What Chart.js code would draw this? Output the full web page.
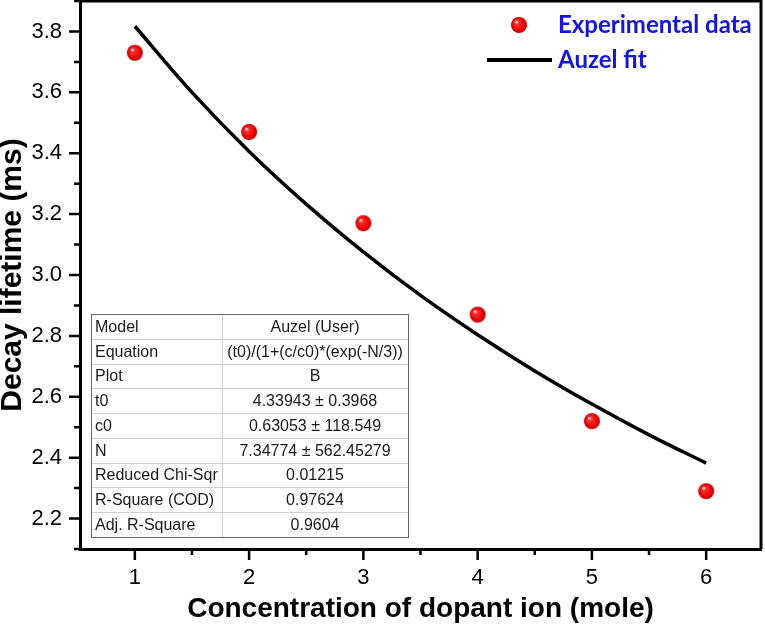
<!DOCTYPE html>
<html>
<head>
<meta charset="utf-8">
<script src="https://cdn.jsdelivr.net/npm/chart.js@4.4.1/dist/chart.umd.min.js"></script>
<style>body{margin:0;background:#fff}</style>
</head>
<body>
<canvas id="chart" width="765" height="625"></canvas>
<script>
// values
const concentration = [1, 2, 3, 4, 5, 6];
const lifetime = [3.73, 3.47, 3.17, 2.87, 2.52, 2.29];
const fitX = [1, 1.5, 2, 2.5, 3, 3.5, 4, 4.5, 5, 5.5, 6];
const fitY = [3.817, 3.600, 3.406, 3.233, 3.076, 2.933, 2.804, 2.685, 2.576, 2.475, 2.382];
const xTicks = [1, 2, 3, 4, 5, 6];
const yTicks = [2.2, 2.4, 2.6, 2.8, 3.0, 3.2, 3.4, 3.6, 3.8];
const legendLabels = ['Experimental data', 'Auzel fit'];
const tableRows = [
    ['Model', 'Auzel (User)'],
    ['Equation', '(t0)/(1+(c/c0)*(exp(-N/3))'],
    ['Plot', 'B'],
    ['t0', '4.33943 \u00b1 0.3968'],
    ['c0', '0.63053 \u00b1 118.549'],
    ['N', '7.34774 \u00b1 562.45279'],
    ['Reduced Chi-Sqr', '0.01215'],
    ['R-Square (COD)', '0.97624'],
    ['Adj. R-Square', '0.9604']
];

const FONT = '"Liberation Sans", Arial, sans-serif';

// shaded red ball used as marker
function makeSphere(r) {
    const c = document.createElement('canvas');
    c.width = c.height = r * 2 + 2;
    const g = c.getContext('2d');
    const cx = r + 1, cy = r + 1;
    const grad = g.createRadialGradient(cx - r * 0.35, cy - r * 0.4, r * 0.05, cx, cy, r);
    grad.addColorStop(0, '#fff0f0');
    grad.addColorStop(0.22, '#ff3030');
    grad.addColorStop(0.75, '#ee0000');
    grad.addColorStop(1, '#b40000');
    g.fillStyle = grad;
    g.beginPath();
    g.arc(cx, cy, r, 0, Math.PI * 2);
    g.fill();
    return c;
}
const sphere = makeSphere(8);

function minorsOf(ticks, min, max) {
    const out = [];
    const step = ticks[1] - ticks[0];
    for (let i = -1; i < ticks.length; i++) {
        const v = (i < 0 ? ticks[0] - step : ticks[i]) + step / 2;
        if (v > min && v < max) out.push(v);
    }
    return out;
}

const frameAndTicks = {
    id: 'frameAndTicks',
    afterDraw(chart) {
        const { ctx, chartArea: a, scales: { x, y } } = chart;
        ctx.save();
        ctx.strokeStyle = '#000';
        ctx.lineWidth = 3;
        ctx.beginPath();
        ctx.moveTo(a.left, a.top);
        ctx.lineTo(a.right, a.top);
        ctx.lineTo(a.right, a.bottom);
        ctx.stroke();

        ctx.lineWidth = 2.5;
        ctx.beginPath();
        xTicks.forEach(v => {
            const p = x.getPixelForValue(v);
            ctx.moveTo(p, a.bottom); ctx.lineTo(p, a.bottom + 11);
        });
        minorsOf(xTicks, x.min, x.max).forEach(v => {
            const p = x.getPixelForValue(v);
            ctx.moveTo(p, a.bottom); ctx.lineTo(p, a.bottom + 6);
        });
        yTicks.forEach(v => {
            const p = y.getPixelForValue(v);
            ctx.moveTo(a.left, p); ctx.lineTo(a.left - 11, p);
        });
        minorsOf(yTicks, y.min, y.max).forEach(v => {
            const p = y.getPixelForValue(v);
            ctx.moveTo(a.left, p); ctx.lineTo(a.left - 6, p);
        });
        ctx.stroke();
        ctx.restore();
    }
};

const legendAndTable = {
    id: 'legendAndTable',
    afterDraw(chart) {
        const ctx = chart.ctx;
        ctx.save();

        // legend
        ctx.drawImage(sphere, 519 - sphere.width / 2, 25 - sphere.height / 2);
        ctx.strokeStyle = '#000';
        ctx.lineWidth = 4;
        ctx.beginPath();
        ctx.moveTo(487, 60);
        ctx.lineTo(552, 60);
        ctx.stroke();
        ctx.fillStyle = '#1212ee';
        ctx.font = 'bold 24px Lato, "Open Sans", sans-serif';
        ctx.textBaseline = 'alphabetic';
        ctx.textAlign = 'left';
        ctx.fillText(legendLabels[0], 558, 33);
        ctx.fillText(legendLabels[1], 558, 68);

        // parameter table
        const left = 91, right = 408, top = 314, bottom = 537, split = 222;
        const rh = (bottom - top) / tableRows.length;
        ctx.fillStyle = '#fff';
        ctx.fillRect(left, top, right - left, bottom - top);
        ctx.strokeStyle = '#cfcfcf';
        ctx.lineWidth = 1;
        ctx.beginPath();
        for (let i = 1; i < tableRows.length; i++) {
            const yy = Math.round(top + i * rh) + 0.5;
            ctx.moveTo(left, yy); ctx.lineTo(right, yy);
        }
        ctx.moveTo(split + 0.5, top); ctx.lineTo(split + 0.5, bottom);
        ctx.stroke();
        ctx.strokeStyle = '#666';
        ctx.strokeRect(left + 0.5, top + 0.5, right - left, bottom - top);

        ctx.fillStyle = '#1a1a1a';
        ctx.font = '16px ' + FONT;
        ctx.textBaseline = 'middle';
        tableRows.forEach((row, i) => {
            const yy = top + (i + 0.5) * rh + 1;
            ctx.textAlign = 'left';
            ctx.fillText(row[0], left + 4, yy);
            ctx.textAlign = 'center';
            ctx.fillText(row[1], (split + right) / 2, yy);
        });
        ctx.restore();
    }
};

const ctx = document.getElementById('chart').getContext('2d');
new Chart(ctx, {
    data: {
        datasets: [{
            type: 'scatter',
            label: legendLabels[0],
            data: concentration.map((c, i) => ({ x: c, y: lifetime[i] })),
            pointStyle: sphere,
            pointRadius: 8,
            order: 0
        }, {
            type: 'line',
            label: legendLabels[1],
            data: fitX.map((c, i) => ({ x: c, y: fitY[i] })),
            borderColor: '#000',
            borderWidth: 3.5,
            pointRadius: 0,
            cubicInterpolationMode: 'monotone',
            fill: false,
            order: 1
        }]
    },
    options: {
        responsive: false,
        animation: false,
        layout: { autoPadding: false, padding: { top: 1, right: 4, left: 0, bottom: 0 } },
        plugins: {
            legend: { display: false },
            tooltip: { enabled: false }
        },
        scales: {
            x: {
                type: 'linear',
                min: 0.52,
                max: 6.48,
                afterBuildTicks: s => { s.ticks = xTicks.map(v => ({ value: v })); },
                afterFit: s => { s.height = 76; s.paddingLeft = 0; s.paddingRight = 0; },
                grid: { display: false },
                border: { display: true, color: '#000', width: 3 },
                ticks: {
                    padding: 8, color: '#000', autoSkip: false, maxRotation: 0,
                    font: { family: FONT, size: 22 },
                    callback: v => String(v)
                },
                title: {
                    display: true,
                    text: 'Concentration of dopant ion (mole)',
                    color: '#000',
                    font: { family: FONT, size: 28, weight: 'bold', lineHeight: 1 },
                    padding: { top: 0, bottom: 2 }
                }
            },
            y: {
                min: 2.1,
                max: 3.9,
                afterBuildTicks: s => { s.ticks = yTicks.map(v => ({ value: v })); },
                afterFit: s => { s.width = 80; s.paddingTop = 0; s.paddingBottom = 0; },
                grid: { display: false },
                border: { display: true, color: '#000', width: 3 },
                ticks: {
                    padding: 10, color: '#000', autoSkip: false,
                    font: { family: FONT, size: 22 },
                    callback: v => v.toFixed(1)
                },
                title: {
                    display: true,
                    text: 'Decay lifetime (ms)',
                    color: '#000',
                    font: { family: FONT, size: 30, weight: 'bold', lineHeight: 1 },
                    padding: { top: -2.5, bottom: 0 }
                }
            }
        }
    },
    plugins: [frameAndTicks, legendAndTable]
});
</script>
</body>
</html>
